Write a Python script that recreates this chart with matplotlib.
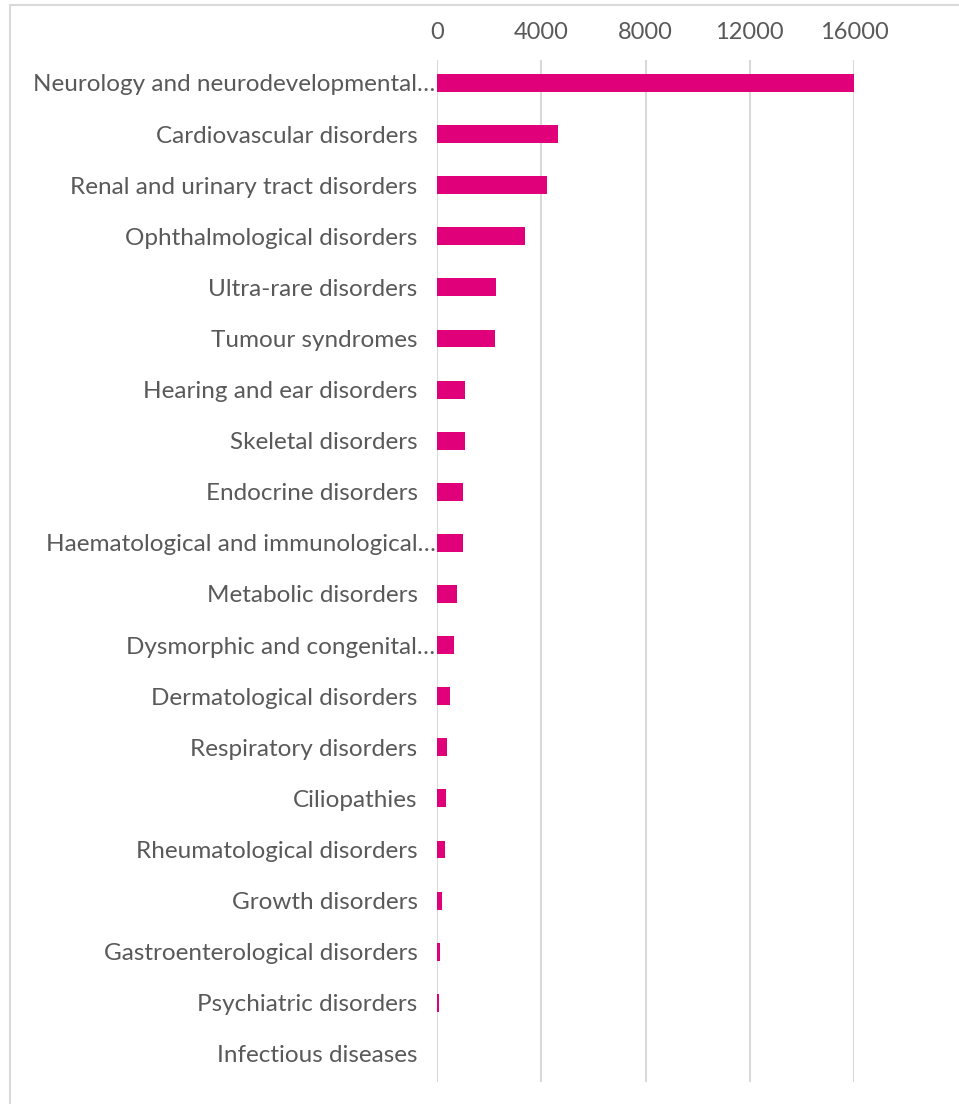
import matplotlib
matplotlib.use('Agg')
import matplotlib.pyplot as plt
from matplotlib.patches import Rectangle

# Categories top to bottom, as shown in the chart
categories = [
    'Neurology and neurodevelopmental\u2026',
    'Cardiovascular disorders',
    'Renal and urinary tract disorders',
    'Ophthalmological disorders',
    'Ultra-rare disorders',
    'Tumour syndromes',
    'Hearing and ear disorders',
    'Skeletal disorders',
    'Endocrine disorders',
    'Haematological and immunological\u2026',
    'Metabolic disorders',
    'Dysmorphic and congenital\u2026',
    'Dermatological disorders',
    'Respiratory disorders',
    'Ciliopathies',
    'Rheumatological disorders',
    'Growth disorders',
    'Gastroenterological disorders',
    'Psychiatric disorders',
    'Infectious diseases',
]
counts = [16030, 4650, 4220, 3370, 2260, 2240, 1090, 1060, 990, 980,
          760, 640, 490, 370, 350, 310, 180, 115, 65, 5]
x_ticks = [0, 4000, 8000, 12000, 16000]

BAR_COLOR = '#e0007a'
GRID_COLOR = '#d9d9d9'
TEXT_COLOR = '#595959'

plt.rcParams['font.family'] = ['Lato', 'DejaVu Sans']

W, H = 959, 1104
fig = plt.figure(figsize=(W / 100, H / 100), dpi=100)

# light grey chart frame, running off the right and bottom edges
fig.add_artist(Rectangle((10 / W, -0.05), 1.1, 1 - 5 / H + 0.05,
                         transform=fig.transFigure, fill=False,
                         edgecolor=GRID_COLOR, linewidth=1.5))

ax = fig.add_axes([437 / W, 1 - 1082 / H, (854 - 437) / W, (1082 - 60) / H])

y = list(range(len(categories)))
ax.barh(y, counts, height=0.35, color=BAR_COLOR, zorder=3)

ax.set_ylim(len(categories) - 0.45, -0.45)
ax.set_xlim(0, 16000)
ax.set_xticks(x_ticks)
ax.set_yticks(y)
ax.set_yticklabels(categories)

ax.xaxis.tick_top()
ax.tick_params(axis='x', length=0, pad=12, labelsize=17, labelcolor=TEXT_COLOR)
ax.tick_params(axis='y', length=0, pad=14, labelsize=17.5, labelcolor=TEXT_COLOR)

# truncated labels run right up to the axis
for i, lab in enumerate(categories):
    if lab.endswith('\u2026'):
        ax.yaxis.get_major_ticks()[i].set_pad(1)

ax.grid(axis='x', color=GRID_COLOR, linewidth=1.5, zorder=0)
for s in ax.spines.values():
    s.set_visible(False)

fig.savefig('out.png', dpi=100)
